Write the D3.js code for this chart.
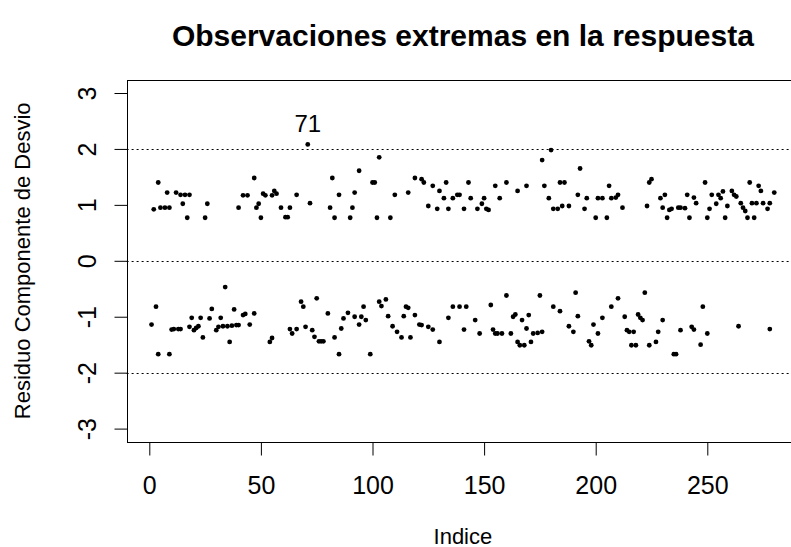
<!DOCTYPE html>
<html>
<head>
<meta charset="utf-8">
<script src="https://cdn.jsdelivr.net/npm/d3@7/dist/d3.min.js"></script>
<style>
    body { margin: 0; background: #fff; }
    svg text { font-family: "Liberation Sans", Arial, sans-serif; fill: #000; }
</style>
</head>
<body>
<div class="canvas"></div>
<script>
// DATA

const indice = [
    1, 2, 3, 4, 4, 5, 7, 8, 9, 9, 10, 11, 12, 13, 14, 14, 15, 16, 17, 18, 18, 19, 20, 21, 22, 23, 24, 25, 26, 27, 28,
    30, 31, 32, 33, 34, 35, 36, 37, 38, 39, 40, 40, 42, 42, 43, 44, 45, 47, 47, 48, 49, 50, 51, 52, 54, 55, 55, 56, 57,
    59, 61, 62, 63, 63, 64, 66, 66, 68, 69, 70, 71, 72, 73, 74, 75, 76, 77, 78, 80, 81, 82, 83, 83, 85, 85, 86, 87, 89,
    90, 91, 92, 92, 94, 94, 95, 96, 97, 99, 100, 101, 102, 103, 103, 104, 106, 107, 108, 109, 110, 111, 113, 114, 115,
    116, 116, 117, 119, 119, 121, 122, 122, 123, 125, 125, 127, 127, 129, 130, 130, 132, 133, 134, 134, 136, 136, 138,
    139, 139, 141, 141, 142, 143, 144, 146, 147, 148, 149, 150, 151, 152, 153, 154, 155, 155, 156, 157, 158, 160, 160,
    162, 163, 164, 165, 165, 166, 167, 168, 169, 169, 170, 171, 172, 174, 175, 176, 176, 177, 179, 180, 181, 181, 183,
    184, 184, 185, 186, 188, 188, 190, 191, 192, 192, 193, 195, 196, 197, 198, 199, 200, 201, 201, 203, 203, 205, 206,
    207, 207, 209, 210, 210, 212, 213, 214, 215, 216, 217, 218, 219, 220, 221, 222, 223, 224, 224, 225, 227, 228, 229,
    230, 230, 231, 232, 233, 234, 235, 236, 237, 238, 238, 240, 241, 242, 243, 244, 244, 245, 247, 248, 249, 250, 250,
    251, 252, 254, 255, 256, 257, 258, 259, 261, 262, 263, 264, 265, 266, 267, 268, 269, 270, 271, 272, 273, 274, 275,
    277, 278, 278, 280
];

const residuo = [
    -1.14, 0.92, -0.82, 1.40, -1.67, 0.95, 0.95, 1.22, 0.95, -1.67, -1.23, -1.22, 1.22, -1.22, 1.18, -1.22, 1.02, 1.18, 0.77, 1.18, -1.18, -1.02, -1.24, -1.20, -1.17, -1.02, -1.37, 0.77, 1.02, -1.03, -0.86,
    -1.24, -1.18, -1.02, -1.17, -0.47, -1.17, -1.45, -1.16, -0.87, -1.15, 0.95, -1.15, 1.17, -0.97, -0.95, 1.17, -1.14, 1.48, -0.94, 0.95, 1.02, 0.77, 1.20, 1.17, -1.45, 1.17, -1.38, 1.25, 1.20,
    0.95, 0.78, 0.78, 0.95, -1.22, -1.30, 1.18, -1.22, -0.73, -0.82, -1.18, 2.08, 1.03, -1.24, -1.36, -0.67, -1.44, -1.44, -1.44, -0.94, 0.95, 1.48, 0.77, -1.37, 1.18, -1.67, -1.21, -1.03, -0.93,
    0.77, 0.95, 1.22, -1.00, 1.61, -1.14, -1.00, -0.82, -1.06, -1.67, 1.40, 1.40, 0.77, 1.85, -0.73, -0.81, -0.69, -0.99, 0.77, -1.17, 1.18, -1.27, -1.37, -0.99, -0.82,
    1.22, -0.84, -1.37, 1.48, -0.97, -1.14, 1.46, -1.15, 1.40, 0.98, -1.18, 1.34, -1.23, 0.93, 1.25, -1.45, 1.12, 1.40, 0.93, -1.02, 1.12, -0.82, 1.18,
    1.18, -0.82, 0.93, -1.23, -0.82, 1.40, 1.12, -1.06, 0.93, -1.30, 1.02, 1.12, 0.93, 0.91, -0.79, -1.23, 1.34, -1.30, -1.30, 1.12, -1.30, 1.40, -0.62,
    -1.30, -1.00, -0.96, 1.25, -1.45, -1.51, -1.06, -1.51, 1.34, -1.21, -0.97, -1.45, -1.30, -1.29, -0.62, 1.80, -1.27, 1.34, 1.12, 1.98, 0.93, -0.82, 0.93,
    1.40, -0.90, 0.98, 1.40, 0.98, -1.17, -1.27, -0.57, 1.18, -0.99, 1.65, 0.93, 1.12, -1.44, -1.51, -1.14, 0.77, 1.12, -1.30, 1.12, -1.02, 0.77, 1.34,
    1.12, -0.82, 1.13, 1.18, -0.67, 0.95, -1.00, -1.24, -1.27, -1.51, -1.27, -1.51, -0.96, -1.02, -1.06, -0.57, 0.98, 1.40, -1.51, 1.46, -1.45, -1.27, 1.12,
    0.95, -1.06, 1.18, 0.77, 0.91, 0.93, -1.67, -1.67, 0.95, 0.95, -1.24, 0.94, 1.18, 0.77, -1.18, 1.13, -1.23, 1.03, -1.50, -0.82, 1.40, 0.77, -1.30,
    0.93, 1.18, 1.02, 1.18, 1.12, 1.24, 0.77, 0.98, 1.25, 1.18, 1.15, -1.17, 1.03, 0.95, 0.89, 0.77, 1.40, 1.03, 0.77, 1.03, 1.34, 1.25, 1.03,
    0.93, 1.03, -1.22, 1.22
];

const nObs = 280;
const outlier = 71;

const xTicks = [0, 50, 100, 150, 200, 250];
const yTicks = [-3, -2, -1, 0, 1, 2, 3];
const refLines = [-2, 0, 2];

const titleText = 'Observaciones extremas en la respuesta';
const xLabel = 'Indice';
const yLabel = 'Residuo Componente de Desvio';


// PLOTTING

const svg = d3.select('.canvas').append('svg')
    .attr('width', 791)
    .attr('height', 547);

svg.append('rect')
    .attr('width', 791)
    .attr('height', 547)
    .attr('fill', '#fff');

// scales
const x = d3.scaleLinear().domain([0, 250]).range([149.3, 707.3]);
const y = d3.scaleLinear().domain([-3, 3]).range([428.6, 93]);

// R style 4% range extension
const padX = 0.04 * (nObs - 1);
const boxL = x(1 - padX), boxR = x(nObs + padX);
const boxT = y(3.24), boxB = y(-3.24);
const midX = (boxL + boxR) / 2;


// reference lines
svg.selectAll('.ref')
    .data(refLines)
    .enter()
    .append('line')
    .attr('x1', boxL)
    .attr('x2', boxR)
    .attr('y1', d => Math.round(y(d)) + 0.5)
    .attr('y2', d => Math.round(y(d)) + 0.5)
    .attr('stroke', '#000')
    .attr('stroke-width', 1)
    .attr('stroke-dasharray', '2,3');


// x axis
const xAxis = svg.append('g')
    .attr('transform', `translate(0,${Math.round(boxB) + 0.5})`)
    .call(d3.axisBottom(x).tickValues(xTicks).tickSize(13).tickSizeOuter(0).tickFormat(d => String(d)));

xAxis.select('.domain').remove();
xAxis.selectAll('line').attr('stroke', '#000');
xAxis.selectAll('text')
    .attr('y', 51)
    .attr('dy', null)
    .style('font-size', '25px');


// y axis
const yAxis = svg.append('g')
    .attr('transform', `translate(${Math.round(boxL) + 0.5},0)`)
    .call(d3.axisLeft(y).tickValues(yTicks).tickSize(13).tickSizeOuter(0).tickFormat(d => String(d)));

yAxis.select('.domain').remove();
yAxis.selectAll('line').attr('stroke', '#000');
yAxis.selectAll('text')
    .attr('x', null)
    .attr('dy', null)
    .attr('text-anchor', 'middle')
    .attr('transform', 'translate(-32,0) rotate(-90)')
    .style('font-size', '25px');


// box
svg.append('rect')
    .attr('x', Math.round(boxL) + 0.5)
    .attr('y', Math.round(boxT) + 0.5)
    .attr('width', Math.round(boxR) - Math.round(boxL))
    .attr('height', Math.round(boxB) - Math.round(boxT))
    .attr('fill', 'none')
    .attr('stroke', '#000')
    .attr('stroke-width', 1);


// points
svg.selectAll('.pt')
    .data(indice)
    .enter()
    .append('circle')
    .attr('cx', d => x(d))
    .attr('cy', (d, i) => y(residuo[i]))
    .attr('r', 2.4)
    .attr('fill', '#000');


// label of the extreme observation
const outIdx = indice.indexOf(outlier);
svg.append('text')
    .attr('x', x(outlier))
    .attr('y', y(residuo[outIdx]) - 12)
    .attr('text-anchor', 'middle')
    .style('font-size', '24px')
    .text(outlier);


// titles
svg.append('text')
    .attr('x', midX)
    .attr('y', 46)
    .attr('text-anchor', 'middle')
    .style('font-size', '30px')
    .style('font-weight', 700)
    .text(titleText);

svg.append('text')
    .attr('x', midX)
    .attr('y', 544)
    .attr('text-anchor', 'middle')
    .style('font-size', '22px')
    .text(xLabel);

svg.append('text')
    .attr('transform', `translate(30,${(boxT + boxB) / 2}) rotate(-90)`)
    .attr('text-anchor', 'middle')
    .style('font-size', '22px')
    .text(yLabel);
</script>
</body>
</html>
